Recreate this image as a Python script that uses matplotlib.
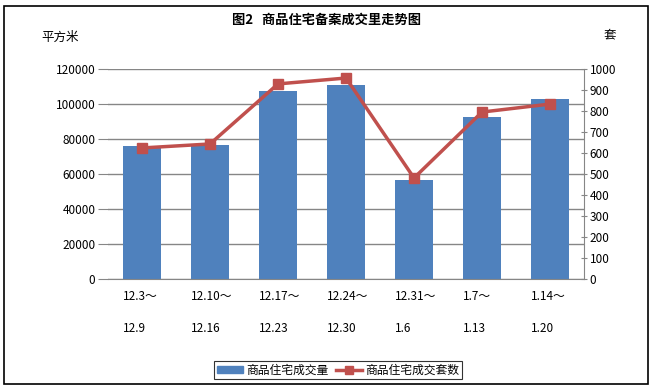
import matplotlib
matplotlib.use("Agg")
import matplotlib.pyplot as plt
from matplotlib.patches import Rectangle
from matplotlib.lines import Line2D
from matplotlib.transforms import blended_transform_factory

plt.rcParams['font.family'] = ['Noto Sans CJK SC', 'DejaVu Sans']

weeks_start = ["12.3～", "12.10～", "12.17～", "12.24～", "12.31～", "1.7～", "1.14～"]
weeks_end = ["12.9", "12.16", "12.23", "12.30", "1.6", "1.13", "1.20"]
area = [76000, 76600, 107400, 110900, 56600, 92600, 102900]
units = [624, 643, 929, 957, 481, 795, 833]
left_ticks = [0, 20000, 40000, 60000, 80000, 100000, 120000]
right_ticks = [0, 100, 200, 300, 400, 500, 600, 700, 800, 900, 1000]

bar_color = "#4F81BD"
line_color = "#C0504D"
grid_color = "#868686"

fig = plt.figure(figsize=(6.52, 3.89), dpi=100)
fig.patches.append(Rectangle((4/652, 1-384/389), 644/652, 378/389, transform=fig.transFigure,
                             fill=False, edgecolor="black", linewidth=1.2))

ax = fig.add_axes([108/652, 1-279/389, 476/652, 210/389])
x = list(range(len(area)))
ax.bar(x, area, width=0.56, color=bar_color, zorder=2)
ax.set_xlim(-0.5, len(area)-0.5)
ax.set_ylim(0, 120000)
ax.set_yticks(left_ticks)
ax.set_yticklabels([str(v) for v in left_ticks], fontsize=8.5)
ax.yaxis.grid(True, color=grid_color, linewidth=1, zorder=0)
ax.set_axisbelow(True)
ax.tick_params(axis='y', length=7, color=grid_color, pad=2)
ax.set_xticks([])
for s in ["left", "top", "right"]:
    ax.spines[s].set_visible(False)
ax.spines["bottom"].set_color(grid_color)

ax2 = ax.twinx()
ax2.plot(x, units, color=line_color, linewidth=2.5, marker='s', markersize=7, zorder=3)
ax2.set_ylim(0, 1000)
ax2.set_yticks(right_ticks)
ax2.set_yticklabels([str(v) for v in right_ticks], fontsize=8.5)
ax2.tick_params(axis='y', length=4, color=grid_color, pad=2, direction='inout')
for s in ["left", "top", "bottom"]:
    ax2.spines[s].set_visible(False)
ax2.spines["right"].set_color(grid_color)

trans = blended_transform_factory(ax.transData, fig.transFigure)
for i, (a, b) in enumerate(zip(weeks_start, weeks_end)):
    ax.text(i - 0.28, 1-297/389, a, transform=trans, ha='left', va='center', fontsize=8.5)
    ax.text(i - 0.28, 1-329/389, b, transform=trans, ha='left', va='center', fontsize=8.5)

fig.text(326/652, 1-20/389, "图2   商品住宅备案成交里走势图", ha='center', va='center',
         fontsize=9.5, fontweight='bold')
fig.text(60/652, 1-37/389, "平方米", ha='center', va='center', fontsize=9)
fig.text(610/652, 1-35/389, "套", ha='center', va='center', fontsize=9)

handles = [Rectangle((0, 0), 1, 1, color=bar_color),
           Line2D([0], [0], color=line_color, linewidth=2.5, marker='s', markersize=6)]
leg = fig.legend(handles, ["商品住宅成交量", "商品住宅成交套数"], loc='center',
                 bbox_to_anchor=(338/652, 1-370/389), ncol=2, fontsize=8.5, frameon=True,
                 fancybox=False, edgecolor='black', handlelength=2.2, handleheight=0.5,
                 columnspacing=0.6, handletextpad=0.3, borderpad=0.25)
leg.get_frame().set_linewidth(0.8)

fig.savefig("out.png", dpi=100)
